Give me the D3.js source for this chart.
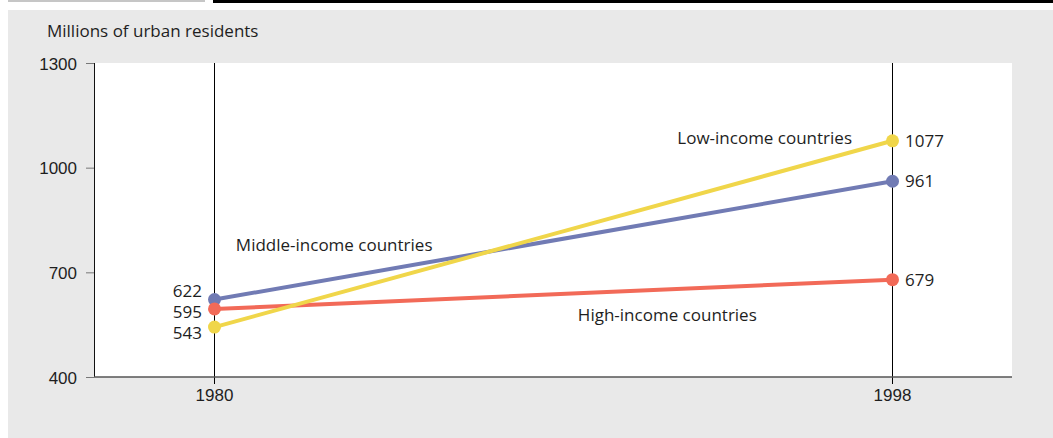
<!DOCTYPE html>
<html>
<head>
<meta charset="utf-8">
<script src="https://cdn.jsdelivr.net/npm/d3@7"></script>
<style>
  html, body { margin: 0; padding: 0; background: #fff; }
  svg { display: block; font-family: "Open Sans", "Noto Sans", sans-serif; }
  .axis text { font-size: 17px; fill: #1e1e1e; }
  .lbl { font-size: 17px; fill: #1e1e1e; }
</style>
</head>
<body>
<div id="chart"></div>
<script>
// data
const years = [1980, 1998];
const seriesNames = ['Middle-income countries', 'High-income countries', 'Low-income countries'];
const middleIncome = [622, 961];
const highIncome = [595, 679];
const lowIncome = [543, 1077];
const yTicks = [400, 700, 1000, 1300];
// where the series names sit, as [year, value]
const nameAnchors = [[1980.58, 762], [1989.66, 561], [1992.3, 1067]];

const seriesColors = ['#717bb4', '#f26a58', '#f0d64a'];
const width = 1053, height = 438;
const margin = { top: 63, right: 41, bottom: 61, left: 94 };

const svg = d3.select('#chart').append('svg')
  .attr('width', width)
  .attr('height', height);

// page furniture
svg.append('rect').attr('x', 8).attr('y', 0).attr('width', 197).attr('height', 2).attr('fill', '#c6c6c6');
svg.append('rect').attr('x', 213).attr('y', 0).attr('width', width - 213).attr('height', 3).attr('fill', '#000');
svg.append('rect').attr('x', 8).attr('y', 10).attr('width', width - 8).attr('height', height - 10).attr('fill', '#e9e9e9');

const x = d3.scalePoint()
  .domain(years)
  .range([margin.left, width - margin.right])
  .padding(0.177);

const y = d3.scaleLinear()
  .domain([400, 1300])
  .range([height - margin.bottom, margin.top]);

const px = v => Math.round(v) + 0.5;

svg.append('rect')
  .attr('x', margin.left).attr('y', margin.top)
  .attr('width', width - margin.right - margin.left)
  .attr('height', height - margin.bottom - margin.top)
  .attr('fill', '#fff');

svg.append('text')
  .attr('class', 'lbl')
  .attr('x', 47).attr('y', 37)
  .text('Millions of urban residents');

// y axis
const yAxis = svg.append('g')
  .attr('class', 'axis')
  .attr('transform', `translate(${margin.left},0)`)
  .call(d3.axisLeft(y).tickValues(yTicks).tickFormat(d3.format('d')).tickSize(8).tickPadding(9));
yAxis.select('.domain').remove();
yAxis.selectAll('.tick line').attr('stroke', '#777');
yAxis.selectAll('.tick text').attr('dy', '0.36em');
svg.append('line')
  .attr('x1', px(margin.left)).attr('x2', px(margin.left))
  .attr('y1', margin.top).attr('y2', y(400))
  .attr('stroke', '#111');

// x axis
const xAxis = svg.append('g')
  .attr('class', 'axis')
  .attr('transform', `translate(0,${y(400)})`)
  .call(d3.axisBottom(x).tickSize(0).tickPadding(12));
xAxis.select('.domain').remove();

// year guides
svg.selectAll('.guide')
  .data(years)
  .join('line')
  .attr('class', 'guide')
  .attr('x1', d => px(x(d))).attr('x2', d => px(x(d)))
  .attr('y1', margin.top).attr('y2', y(400) + 7)
  .attr('stroke', '#000');

svg.append('line')
  .attr('x1', margin.left).attr('x2', width - margin.right)
  .attr('y1', y(400)).attr('y2', y(400))
  .attr('stroke', '#555').attr('stroke-width', 1.5);

const series = [middleIncome, highIncome, lowIncome].map((vals, i) => ({
  name: seriesNames[i],
  color: seriesColors[i],
  anchor: nameAnchors[i],
  points: vals.map((v, j) => ({ year: years[j], value: v }))
}));

const line = d3.line().x(d => px(x(d.year))).y(d => y(d.value));

svg.selectAll('.series')
  .data(series)
  .join('path')
  .attr('class', 'series')
  .attr('d', d => line(d.points))
  .attr('fill', 'none')
  .attr('stroke', d => d.color)
  .attr('stroke-width', 4);

series.forEach(s => {
  svg.selectAll(null)
    .data(s.points)
    .join('circle')
    .attr('cx', d => px(x(d.year)))
    .attr('cy', d => y(d.value))
    .attr('r', 6.5)
    .attr('fill', s.color);
});

// value labels, spread so they don't collide
function spread(items, gap) {
  items.sort((a, b) => a.y - b.y);
  const orig = d3.mean(items, d => d.y);
  for (let i = 1; i < items.length; i++) {
    if (items[i].y < items[i - 1].y + gap) items[i].y = items[i - 1].y + gap;
  }
  const shift = d3.mean(items, d => d.y) - orig;
  items.forEach(d => d.y -= shift);
  return items;
}

years.forEach((yr, j) => {
  const items = series.map(s => ({ value: s.points[j].value, y: y(s.points[j].value) + 6 }));
  spread(items, 21);
  svg.selectAll(null)
    .data(items)
    .join('text')
    .attr('class', 'lbl')
    .attr('x', x(yr) + (j === 0 ? -12 : 13))
    .attr('y', d => d.y)
    .attr('text-anchor', j === 0 ? 'end' : 'start')
    .text(d => d.value);
});

// series names
const xLin = d3.scaleLinear().domain(years).range(years.map(x));
svg.selectAll('.name')
  .data(series)
  .join('text')
  .attr('class', 'lbl name')
  .attr('x', d => xLin(d.anchor[0]))
  .attr('y', d => y(d.anchor[1]))
  .text(d => d.name);
</script>
</body>
</html>
